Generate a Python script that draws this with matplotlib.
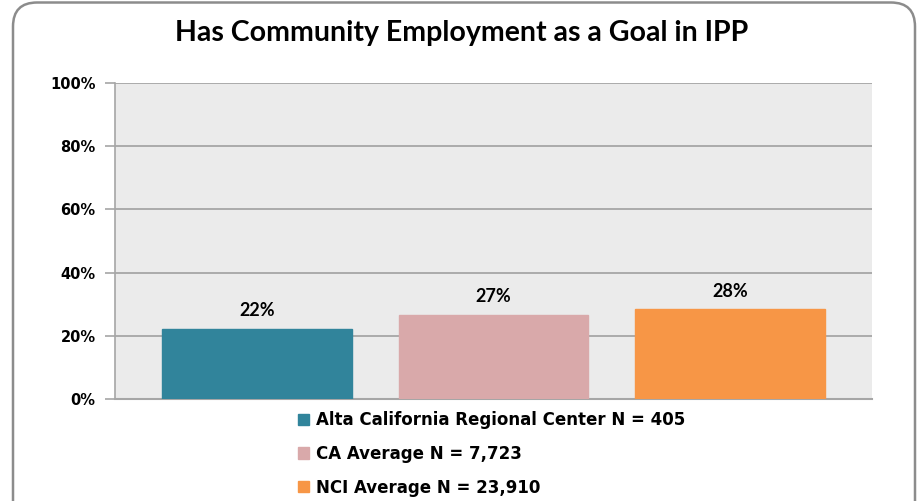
import matplotlib.pyplot as plt
from matplotlib.patches import FancyBboxPatch

# data
groups = ['Alta California Regional Center N = 405', 'CA Average N = 7,723', 'NCI Average N = 23,910']
values = [22.2, 26.6, 28.4]
colors = ['#31849B', '#D9A9AA', '#F79646']
yticks = [0, 20, 40, 60, 80, 100]
title = 'Has Community Employment as a Goal in IPP'

fig = plt.figure(figsize=(9.24, 5.01), dpi=100)
ax = fig.add_axes([115 / 924, 1 - 399 / 501, (872 - 115) / 924, (399 - 83) / 501])

# rounded outer border
border = FancyBboxPatch((13 / 924, -0.05), 902 / 924, 1.045, boxstyle='round,pad=0,rounding_size=0.026',
                        transform=fig.transFigure, facecolor='none', edgecolor='#8C8C8C',
                        linewidth=1.8, mutation_aspect=924 / 501)
fig.patches.append(border)

ax.set_facecolor('#EBEBEB')
x = range(len(values))
bars = ax.bar(x, values, width=0.8, color=colors, label=groups, zorder=3)
for b, c in zip(bars, colors):
    b.set_edgecolor(c)

for xi, v in zip(x, values):
    ax.annotate(f'{v:.0f}%', (xi, v), xytext=(0, 7), textcoords='offset points',
                ha='center', va='bottom', fontsize=13, fontweight='bold', family='Lato')

ax.set_xlim(-0.6, 2.6)
ax.set_ylim(0, 100)
ax.set_yticks(yticks)
ax.set_yticklabels([f'{t}%' for t in yticks], fontsize=10.5, fontweight='bold')
ax.set_xticks([])
ax.grid(axis='y', color='#A6A6A6', linewidth=1.3, zorder=1)
ax.tick_params(axis='y', length=7, width=1.2, color='#A6A6A6', pad=7)
for s in ['top', 'right']:
    ax.spines[s].set_visible(False)
ax.spines['left'].set_color('#A6A6A6')
ax.spines['left'].set_linewidth(1.2)
ax.spines['bottom'].set_color('#A6A6A6')
ax.spines['bottom'].set_linewidth(1.5)

fig.text(0.5, 1 - 33 / 501, title, ha='center', va='center', fontsize=20.5, fontweight='bold', family='Lato')

fig.legend(handles=list(bars), labels=groups, loc='upper left', bbox_to_anchor=(298 / 924, 1 - 411 / 501),
           frameon=False, handlelength=0.65, handleheight=0.65, handletextpad=0.45, labelspacing=0.95,
           prop={'size': 12, 'weight': 'bold'}, borderaxespad=0, borderpad=0)

fig.savefig('out.png', dpi=100)
